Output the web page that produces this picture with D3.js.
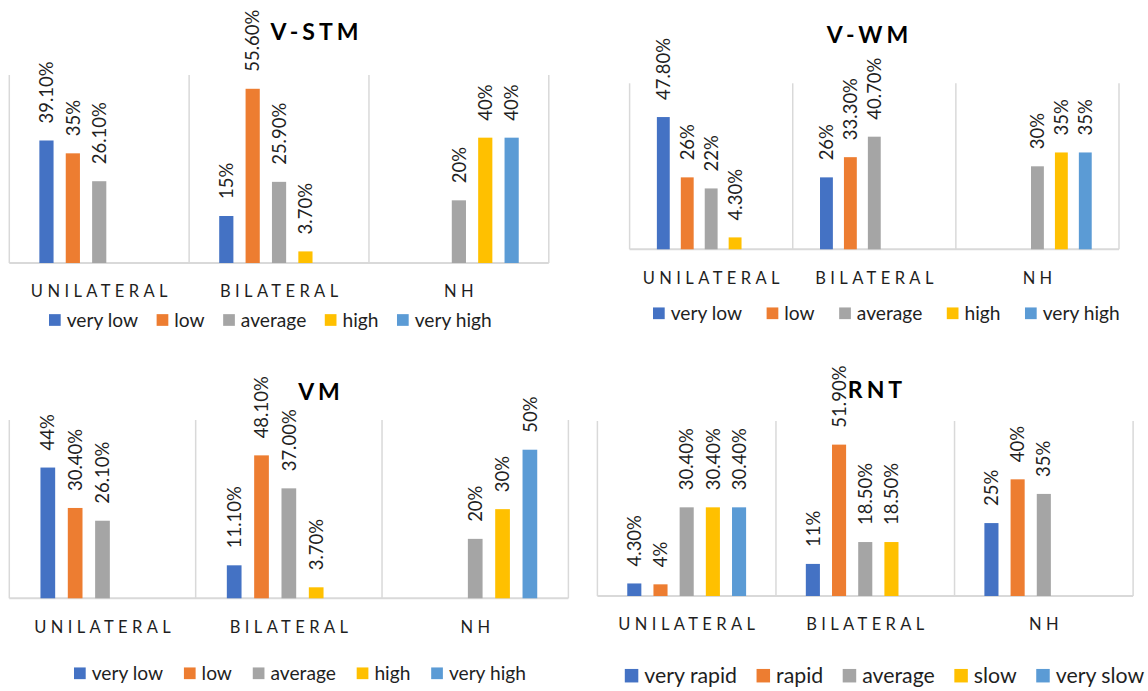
<!DOCTYPE html>
<html>
<head>
<meta charset="utf-8">
<script src="https://cdn.jsdelivr.net/npm/d3@7"></script>
<style>
  html, body { margin: 0; padding: 0; background: #fff; }
  svg { display: block; font-family: Lato, "Noto Sans", sans-serif; }
</style>
</head>
<body>
<svg id="chart" width="1148" height="691"></svg>
<script>
// Groups on the category axis
const categories = ["UNILATERAL", "BILATERAL", "NH"];

// Series names
const levelNames = ["very low", "low", "average", "high", "very high"];
const speedNames = ["very rapid", "rapid", "average", "slow", "very slow"];
const seriesColors = ["#4472C4", "#ED7D31", "#A5A5A5", "#FFC000", "#5B9BD5"];

// Percentage shares as printed on each bar (null = no bar), in category order
const vstmVeryLow  = ["39.10%", "15%", null];
const vstmLow      = ["35%", "55.60%", null];
const vstmAverage  = ["26.10%", "25.90%", "20%"];
const vstmHigh     = [null, "3.70%", "40%"];
const vstmVeryHigh = [null, null, "40%"];

const vwmVeryLow  = ["47.80%", "26%", null];
const vwmLow      = ["26%", "33.30%", null];
const vwmAverage  = ["22%", "40.70%", "30%"];
const vwmHigh     = ["4.30%", null, "35%"];
const vwmVeryHigh = [null, null, "35%"];

const vmVeryLow  = ["44%", "11.10%", null];
const vmLow      = ["30.40%", "48.10%", null];
const vmAverage  = ["26.10%", "37.00%", "20%"];
const vmHigh     = [null, "3.70%", "30%"];
const vmVeryHigh = [null, null, "50%"];

const rntVeryRapid = ["4.30%", "11%", "25%"];
const rntRapid     = ["4%", "51.90%", "40%"];
const rntAverage   = ["30.40%", "18.50%", "35%"];
const rntSlow      = ["30.40%", "18.50%", null];
const rntVerySlow  = ["30.40%", null, null];

// Value axis range (percent)
const valueMax = 60;

// Panel layout
const panels = [
  { title: "V-STM", names: levelNames,
    series: [vstmVeryLow, vstmLow, vstmAverage, vstmHigh, vstmVeryHigh],
    box: { left: 9.3, right: 548.8, top: 75, bottom: 263 },
    titlePos: [314.5, 32], catY: 290.7,
    legend: { x: 49, cy: 320, marker: 11.7, font: 19.2, gap: 18.5 } },
  { title: "V-WM", names: levelNames,
    series: [vwmVeryLow, vwmLow, vwmAverage, vwmHigh, vwmVeryHigh],
    box: { left: 629.6, right: 1119, top: 83.3, bottom: 249.3 },
    titlePos: [867.5, 35], catY: 278.3,
    legend: { x: 653, cy: 313.3, marker: 11.7, font: 19.2, gap: 24.5 } },
  { title: "VM", names: levelNames,
    series: [vmVeryLow, vmLow, vmAverage, vmHigh, vmVeryHigh],
    box: { left: 9.3, right: 568.4, top: 420, bottom: 598.3 },
    titlePos: [319, 391.7], catY: 626.7,
    legend: { x: 74, cy: 673.3, marker: 11.7, font: 19.2, gap: 20.8 } },
  { title: "RNT", names: speedNames,
    series: [rntVeryRapid, rntRapid, rntAverage, rntSlow, rntVerySlow],
    box: { left: 597.4, right: 1133.1, top: 421, bottom: 596 },
    titlePos: [875, 390], catY: 624.5,
    legend: { x: 624.8, cy: 675.7, marker: 13.5, font: 21.3, gap: 19.5 } }
];

const svg = d3.select("#chart");
const gridColor = "#D9D9D9";
const textColor = "#1f1f1f";

panels.forEach(p => {
  const g = svg.append("g");
  const b = p.box;

  const x = d3.scaleBand().domain(categories).range([b.left, b.right]).padding(0);
  const xs = d3.scaleBand().domain(d3.range(p.names.length))
    .range([0, x.bandwidth()]).paddingInner(0.462).paddingOuter(1.14);
  const y = d3.scaleLinear().domain([0, valueMax]).range([b.bottom, b.top]);

  // category separators and outer edges
  const edges = categories.map(c => x(c)).concat([b.right]);
  g.selectAll("line.sep").data(edges).join("line")
    .attr("x1", d => d).attr("x2", d => d)
    .attr("y1", y(valueMax)).attr("y2", y(0))
    .attr("stroke", gridColor).attr("stroke-width", 1.5);

  // baseline
  g.append("line")
    .attr("x1", b.left).attr("x2", b.right)
    .attr("y1", y(0)).attr("y2", y(0))
    .attr("stroke", gridColor).attr("stroke-width", 2);

  // bars and value labels
  const rows = [];
  p.series.forEach((vals, si) => {
    vals.forEach((label, ci) => {
      if (label == null) return;
      rows.push({ si, cat: categories[ci], label, value: parseFloat(label) });
    });
  });

  g.selectAll("rect.bar").data(rows).join("rect")
    .attr("x", d => x(d.cat) + xs(d.si))
    .attr("y", d => y(d.value))
    .attr("width", xs.bandwidth())
    .attr("height", d => y(0) - y(d.value))
    .attr("fill", d => seriesColors[d.si]);

  g.selectAll("text.val").data(rows).join("text")
    .attr("transform", d =>
      `translate(${x(d.cat) + xs(d.si) + xs.bandwidth() / 2},${y(d.value) - 17}) rotate(-90)`)
    .attr("dy", "0.36em")
    .attr("text-anchor", "start")
    .attr("font-size", 18.5)
    .attr("fill", textColor)
    .text(d => d.label);

  // category axis labels
  g.selectAll("text.cat").data(categories).join("text")
    .attr("x", d => x(d) + x.bandwidth() / 2 + 2.2)
    .attr("y", p.catY)
    .attr("dy", "0.36em")
    .attr("text-anchor", "middle")
    .attr("font-size", 16.5)
    .style("letter-spacing", "4.4px")
    .attr("fill", textColor)
    .text(d => d);

  // title
  g.append("text")
    .attr("x", p.titlePos[0] + 2)
    .attr("y", p.titlePos[1])
    .attr("dy", "0.36em")
    .attr("text-anchor", "middle")
    .attr("font-size", 23)
    .attr("font-weight", "bold")
    .style("letter-spacing", "4px")
    .attr("fill", "#000")
    .text(p.title);

  // legend
  const L = p.legend;
  let cx = L.x;
  p.names.forEach((name, i) => {
    g.append("rect")
      .attr("x", cx).attr("y", L.cy - L.marker / 2)
      .attr("width", L.marker).attr("height", L.marker)
      .attr("fill", seriesColors[i]);
    const t = g.append("text")
      .attr("x", cx + L.marker + 6)
      .attr("y", L.cy)
      .attr("dy", "0.36em")
      .attr("font-size", L.font)
      .attr("fill", textColor)
      .text(name);
    cx += L.marker + 6 + t.node().getComputedTextLength() + L.gap;
  });
});
</script>
</body>
</html>
